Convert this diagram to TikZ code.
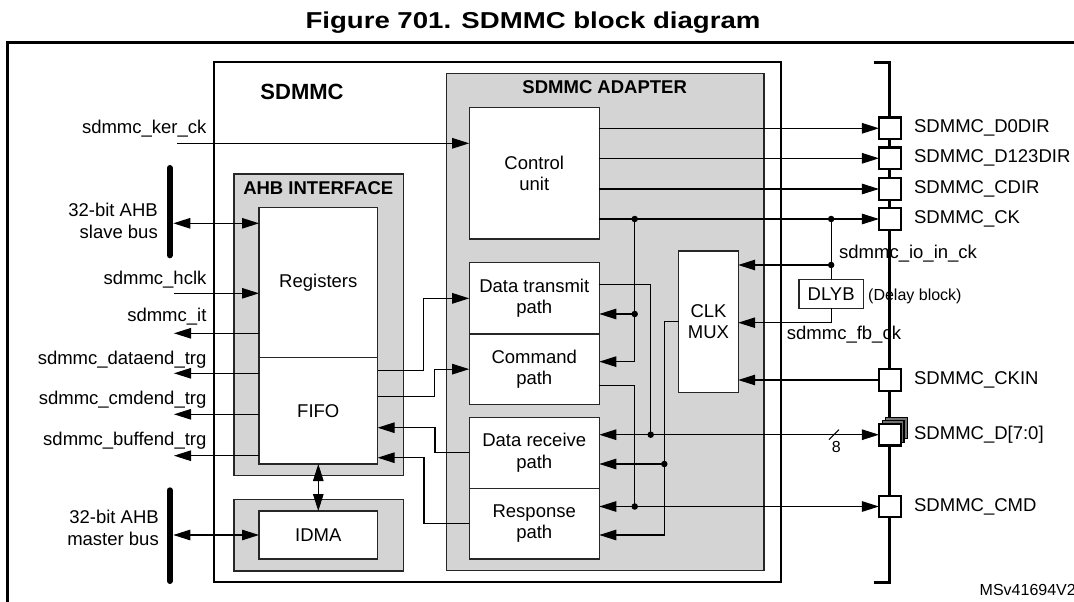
\documentclass[tikz,border=0pt]{standalone}
\usepackage{fontspec}
\setmainfont{Liberation Sans}
\usepackage{graphicx}
\usetikzlibrary{arrows.meta,calc,positioning}
\definecolor{blockgray}{RGB}{212,212,212}

\begin{document}
\begin{tikzpicture}[
    x=1pt, y=-1pt,
    font=\fontsize{18.5}{21.5}\selectfont,
    blk/.style={draw=black!85, fill=white, line width=1.1pt, outer sep=0pt, inner sep=0pt, align=center, minimum width=130.1pt},
    grp/.style={draw=black!85, fill=blockgray, line width=1.3pt, outer sep=0pt, inner sep=0pt},
    pad/.style={draw=black, fill=white, line width=2.2pt, minimum width=21.7pt, minimum height=21.5pt, inner sep=0pt, outer sep=0pt},
    sig/.style={line width=1.1pt, draw=black},
    arr/.style={-{Triangle[length=17pt,width=10.5pt]}},
    darr/.style={{Triangle[length=17pt,width=10.5pt]}-{Triangle[length=17pt,width=10.5pt]}},
    dot/.style={circle, fill=black, inner sep=0pt, minimum size=6.5pt},
    busbar/.style={line width=6pt, line cap=round},
    hdr/.style={font=\bfseries\fontsize{18.5}{21}\selectfont},
    txt/.style={align=right, inner sep=0pt},
    smalltxt/.style={font=\fontsize{16}{18}\selectfont, inner sep=0pt}
]
\useasboundingbox (0,0) rectangle (1074,602);

\node[font=\bfseries\fontsize{23}{26}\selectfont] (title) at (533,23) {\scalebox{1.2}[1]{Figure 701. SDMMC block diagram}};
\draw[line width=2.6pt] (7.6,602) -- (7.6,42.7) -- (1074,42.7);

\node[draw=black, fill=white, line width=1.7pt, outer sep=0pt, inner sep=0pt, minimum width=566.5pt, minimum height=519.7pt] (sdmmc) at (497.45,321.85) {};
\node[grp, minimum width=317.3pt, minimum height=497.4pt] (adapter) at (605.35,322) {};
\node[grp, minimum width=169.2pt, minimum height=301.7pt] (ahbif) at (318.6,324.85) {};
\node[grp, minimum width=169.2pt, minimum height=71.7pt] (idmabg) at (318.6,535.15) {};

\node[font=\bfseries\fontsize{22}{24}\selectfont] (sdmmclbl) at (302,92) {SDMMC};
\node[hdr] (adaptlbl) at (604.7,86.7) {SDMMC ADAPTER};
\node[hdr] (ahblbl) at (318.3,188) {AHB INTERFACE};

\node[blk, minimum height=131.3pt] (ctrl) at (534.25,173.35) {Control\\unit};
\node[blk, minimum height=71.3pt] (dtx) at (534.25,298.35) {Data transmit\\path};
\node[blk, minimum height=70.3pt, below=0pt of dtx] (cmdp) {Command\\path};
\node[blk, minimum height=71pt] (drx) at (534.25,452.8) {Data receive\\path};
\node[blk, minimum height=70.7pt, below=0pt of drx] (resp) {Response\\path};
\node[blk, minimum width=59.4pt, minimum height=141.7pt] (clkmux) at (708.5,321.85) {CLK\\MUX};
\node[blk, minimum width=118.6pt, minimum height=150pt] (regs) at (318.3,282.3) {Registers};
\node[blk, minimum width=118.6pt, minimum height=106.7pt, below=0pt of regs] (fifo) {FIFO};
\node[blk, minimum width=118.6pt, minimum height=48pt] (idma) at (318.3,535) {IDMA};
\node[blk, minimum width=64.3pt, minimum height=29pt] (dlyb) at (831.15,293.8) {DLYB};

\draw[line width=2.6pt] (874,62.7) -- (889.3,62.7) -- (889.3,582.3) -- (874,582.3);
\foreach \o in {6.6,3.3}
    \node[pad, fill=black!55, line width=1.2pt] at (889.8+\o,434.7-\o) {};
\foreach \nm/\yy/\lbl in {pd0dir/128.3/SDMMC\_D0DIR, pd123dir/158.3/SDMMC\_D123DIR, pcdir/189/SDMMC\_CDIR, pck/219/SDMMC\_CK, pckin/380/SDMMC\_CKIN, pd/434.7/SDMMC\_D[7:0], pcmd/506.5/SDMMC\_CMD} {
    \node[pad] (\nm) at (889.8,\yy) {};
    \node[inner sep=0pt, right=13.3pt of \nm] {\lbl};
}

\coordinate (kerin) at (177,143.3);
\draw[sig,arr] (kerin) -- (kerin -| ctrl.west);
\node[txt, anchor=east] at (206.6,129) {sdmmc\_ker\_ck};

\foreach \p in {pd0dir,pd123dir,pcdir,pck}
    \draw[sig,arr] (ctrl.east |- \p) -- (\p.west);

\coordinate (cktap) at (634.7,219);
\coordinate (dtxck) at ($(dtx.east)+(0,15.65)$);
\coordinate (cmdck) at ($(cmdp.east)+(0,-7.5)$);
\draw[sig,arr] (cktap) |- (cmdck);
\draw[sig,arr] (cktap |- dtxck) -- (dtxck);
\node[dot] at (cktap) {};
\node[dot] at (cktap |- dtxck) {};

\coordinate (dlytap) at (dlyb.north |- pck);
\coordinate (ioin) at ($(clkmux.east)+(0,-56.85)$);
\coordinate (fbin) at ($(clkmux.east)+(0,0.85)$);
\draw[sig] (dlytap) -- (dlyb.north);
\draw[sig,arr] (dlytap |- ioin) -- (ioin);
\draw[sig,arr] (dlyb.south) |- (fbin);
\node[dot] at (dlytap) {};
\node[dot] at (dlytap |- ioin) {};
\node[anchor=west, inner sep=0pt] at (839,253.3) {sdmmc\_io\_in\_ck};
\node[smalltxt, anchor=west] at (868,296.7) {(Delay block)};
\node[anchor=west, inner sep=0pt] at (786.7,335) {sdmmc\_fb\_ck};

\draw[sig,arr] (pckin.west) -- (clkmux.east |- pckin);

\coordinate (muxdrop) at ($(clkmux.west)+(-14.5,0)$);
\coordinate (respck) at ($(resp.east)+(0,11.35)$);
\coordinate (drxck) at ($(drx.east)+(0,11.2)$);
\draw[sig,arr] (clkmux.west) -- (muxdrop) |- (respck);
\draw[sig,arr] (muxdrop |- drxck) -- (drxck);
\node[dot] at (muxdrop |- drxck) {};

\coordinate (dtxout) at ($(dtx.east)+(0,-14.05)$);
\coordinate (dcol) at ($(dtxout)+(51.4,0)$);
\draw[sig] (dtxout) -| (dcol |- pd);
\draw[sig,darr] (drx.east |- pd) -- (pd.west);
\node[dot] at (dcol |- pd) {};
\draw[sig] ($(pd.west)+(-50,5)$) -- ($(pd.west)+(-40,-5)$);
\node[smalltxt] at ($(pd.west)+(-42.7,11.8)$) {8};

\coordinate (cmdout) at ($(cmdp.east)+(0,16.55)$);
\draw[sig] (cmdout) -| (cktap |- pcmd);
\draw[sig,darr] (resp.east |- pcmd) -- (pcmd.west);
\node[dot] at (cktap |- pcmd) {};

\coordinate (sbtop) at (169.8,168);
\coordinate (sbbot) at (169.8,255.3);
\coordinate (mbtop) at (169.8,490.3);
\coordinate (mbbot) at (169.8,581);
\draw[busbar] (sbtop) -- (sbbot);
\draw[busbar] (mbtop) -- (mbbot);
\node[txt, anchor=east] at (158,221) {32-bit AHB\\slave bus};
\node[txt, anchor=east] at (159,528) {32-bit AHB\\master bus};

\coordinate (sbus) at (173.3,223.3);
\draw[sig,darr] (sbus) -- (sbus -| regs.west);
\coordinate (hclkin) at (174,293.3);
\draw[sig,arr] (hclkin) -- (hclkin -| regs.west);
\node[txt, anchor=east] at (206.6,280) {sdmmc\_hclk};

\foreach \yy/\src/\lbl/\ly in {333.3/regs/sdmmc\_it/316.7, 373.3/fifo/sdmmc\_dataend\_trg/360, 414.3/fifo/sdmmc\_cmdend\_trg/400, 455.7/fifo/sdmmc\_buffend\_trg/441} {
    \coordinate (outtip) at (174,\yy);
    \draw[sig,arr] (outtip -| \src.west) -- (outtip);
    \node[txt, anchor=east] at (206.6,\ly) {\lbl};
}

\coordinate (fo1) at ($(fifo.east)+(0,-39.95)$);
\coordinate (fo2) at ($(fifo.east)+(0,-13.95)$);
\draw[sig,arr] (fo1) -- ++(45.7,0) |- (dtx.west);
\draw[sig,arr] (fo2) -- ++(57.1,0) |- (cmdp.west);
\draw[sig,arr] (drx.west) -- ++(-34.2,0) |- ($(fifo.east)+(0,17.05)$);
\draw[sig,arr] (resp.west) -- ++(-45.2,0) |- ($(fifo.east)+(0,47.05)$);

\draw[sig,darr] (fifo.south) -- (idma.north);
\coordinate (mbus) at (173.3,535);
\draw[sig,darr] (mbus) -- (mbus -| idma.west);

\node[smalltxt, anchor=east] at (1076,590) {MSv41694V2};
\end{tikzpicture}
\end{document}
